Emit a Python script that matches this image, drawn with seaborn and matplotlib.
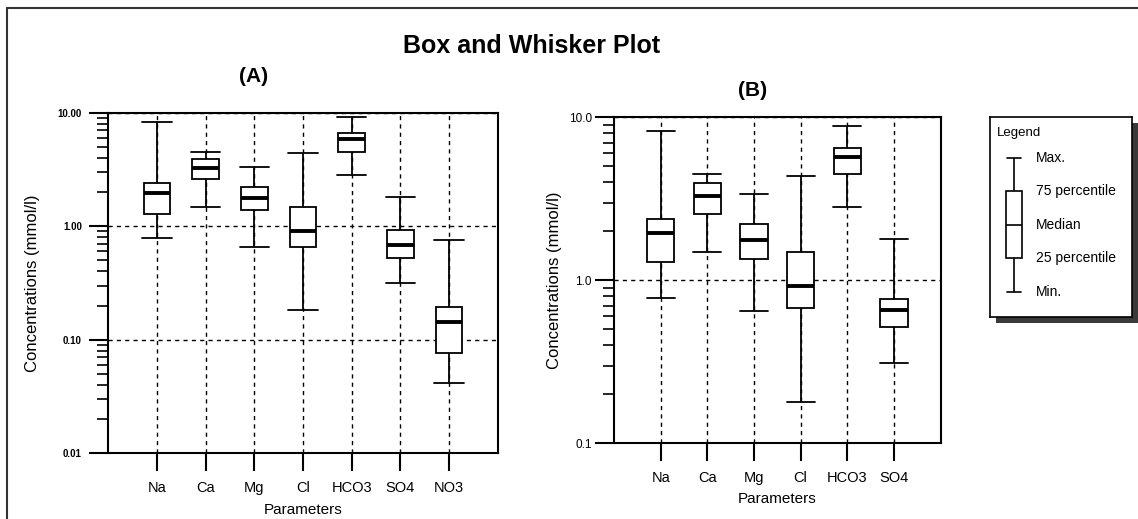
import numpy as np
import pandas as pd
import matplotlib.pyplot as plt
import seaborn as sns
from matplotlib.lines import Line2D
from matplotlib.patches import Rectangle
from matplotlib.ticker import LogLocator, NullFormatter

# five-number summaries (mmol/l)
params_a = ["Na", "Ca", "Mg", "Cl", "HCO3", "SO4", "NO3"]
min_a = [0.78, 1.48, 0.66, 0.184, 2.81, 0.315, 0.042]
q1_a = [1.29, 2.61, 1.38, 0.66, 4.51, 0.52, 0.076]
med_a = [1.98, 3.28, 1.79, 0.90, 5.83, 0.69, 0.144]
q3_a = [2.39, 3.94, 2.22, 1.48, 6.58, 0.92, 0.196]
max_a = [8.28, 4.51, 3.33, 4.39, 9.22, 1.81, 0.75]

params_b = ["Na", "Ca", "Mg", "Cl", "HCO3", "SO4"]
min_b = [0.78, 1.49, 0.65, 0.18, 2.80, 0.31]
q1_b = [1.29, 2.54, 1.35, 0.68, 4.47, 0.515]
med_b = [1.95, 3.29, 1.77, 0.92, 5.74, 0.66]
q3_b = [2.37, 3.97, 2.21, 1.49, 6.52, 0.77]
max_b = [8.28, 4.47, 3.37, 4.37, 8.85, 1.79]

yticks_a = [0.01, 0.1, 1, 10]
ylabels_a = ["0.01", "0.10", "1.00", "10.00"]
yticks_b = [0.1, 1, 10]
ylabels_b = ["0.1", "1.0", "10.0"]

legend_sample = [1, 2, 3, 4, 5]
legend_labels = ["Min.", "25 percentile", "Median", "75 percentile", "Max."]


def long_form(params, mins, q1s, meds, q3s, maxs):
    rows = []
    for p, *vals in zip(params, mins, q1s, meds, q3s, maxs):
        for v in vals:
            rows.append({"Parameters": p, "conc": v})
    return pd.DataFrame(rows)


sns.set_style("ticks")
plt.rcParams["font.family"] = ["Liberation Sans", "DejaVu Sans"]
plt.rcParams["text.color"] = "black"
plt.rcParams["axes.labelcolor"] = "black"

W, H = 1138, 519
fig = plt.figure(figsize=(W / 100, H / 100), dpi=100)


def panel(rect, df, order, width, yticks, ylabels, ylim, tickfont):
    ax = fig.add_axes(rect)
    sns.boxplot(data=df, x="Parameters", y="conc", order=order, ax=ax,
                whis=np.inf, width=width, color="white", linecolor="black",
                saturation=1, linewidth=1.3, log_scale=True, capwidths=0.6,
                medianprops={"linewidth": 2.8})
    ax.set_xlim(-1, len(order))
    ax.set_ylim(*ylim)
    ax.set_yticks(yticks)
    ax.set_yticklabels(ylabels, **tickfont)
    ax.yaxis.set_minor_locator(LogLocator(base=10, subs=range(2, 10)))
    ax.yaxis.set_minor_formatter(NullFormatter())
    ax.set_axisbelow(True)
    ax.grid(True, which="major", color="black", linestyle=(0, (3, 3)), linewidth=1)
    ax.grid(False, which="minor")
    for s in ax.spines.values():
        s.set_visible(True)
        s.set_color("black")
        s.set_linewidth(1.5)
    ax.tick_params(axis="x", direction="out", length=13, width=1.5, pad=7,
                   labelsize=10.5, colors="black")
    ax.tick_params(axis="y", which="major", direction="out", length=14, width=1.5,
                   colors="black")
    ax.tick_params(axis="y", which="minor", direction="out", length=8, width=1.2,
                   colors="black")
    ax.set_xlabel("Parameters", fontsize=11)
    ax.set_ylabel("Concentrations (mmol/l)", fontsize=12)
    return ax


df_a = long_form(params_a, min_a, q1_a, med_a, q3_a, max_a)
df_b = long_form(params_b, min_b, q1_b, med_b, q3_b, max_b)

ax_a = panel([108.3 / W, 1 - 453.3 / H, 389.4 / W, 340.6 / H], df_a, params_a, 0.55,
             yticks_a, ylabels_a, (0.01, 10), {"fontsize": 7, "fontweight": "bold"})
ax_a.tick_params(axis="y", which="major", pad=5)
ax_a.xaxis.set_label_coords(0.5, -0.145)
ax_a.yaxis.set_label_coords(-0.175, 0.5)

ax_b = panel([614 / W, 1 - 443.3 / H, 326.7 / W, 326 / H], df_b, params_b, 0.58,
             yticks_b, ylabels_b, (0.1, 10), {"fontsize": 8.5})
ax_b.tick_params(axis="y", which="major", pad=2)
ax_b.xaxis.set_label_coords(0.5, -0.15)
ax_b.yaxis.set_label_coords(-0.16, 0.5)

fig.text(532 / W, 1 - 46 / H, "Box and Whisker Plot", ha="center", va="center",
         fontsize=18, fontweight="bold")
fig.text(254 / W, 1 - 77 / H, "(A)", ha="center", va="center", fontsize=15,
         fontweight="bold")
fig.text(753 / W, 1 - 90 / H, "(B)", ha="center", va="center", fontsize=15,
         fontweight="bold")

# legend panel with drop shadow
lrect = [990 / W, 1 - 317 / H, 142 / W, 200 / H]
fig.add_artist(Rectangle((lrect[0] + 6 / W, lrect[1] - 6 / H), lrect[2], lrect[3],
                         transform=fig.transFigure, facecolor="#3a3a3a",
                         edgecolor="none", zorder=1))
lax = fig.add_axes(lrect)
lax.set_zorder(2)
sns.boxplot(y=legend_sample, ax=lax, whis=np.inf, width=0.5, color="white",
            linecolor="black", saturation=1, linewidth=1.2, capwidths=0.44)
lax.set_xlim(-0.75, 3.69)
lax.set_ylim(0.24, 6.23)
lax.set_xticks([])
lax.set_yticks([])
lax.set_xlabel("")
lax.set_ylabel("")
for s in lax.spines.values():
    s.set_visible(True)
    s.set_color("black")
    s.set_linewidth(1.2)
lax.text(-0.53, 5.75, "Legend", ha="left", va="center", fontsize=9.5)
for v, lab in zip(legend_sample, legend_labels):
    lax.text(0.68, v, lab, ha="left", va="center", fontsize=10)

# outer frame
fig.add_artist(Line2D([7 / W, 7 / W], [0, 1 - 8 / H], transform=fig.transFigure,
                      color="#333333", lw=1.5))
fig.add_artist(Line2D([7 / W, 1], [1 - 8 / H, 1 - 8 / H], transform=fig.transFigure,
                      color="#333333", lw=1.5))

fig.savefig("out.png", dpi=100, facecolor="white")
